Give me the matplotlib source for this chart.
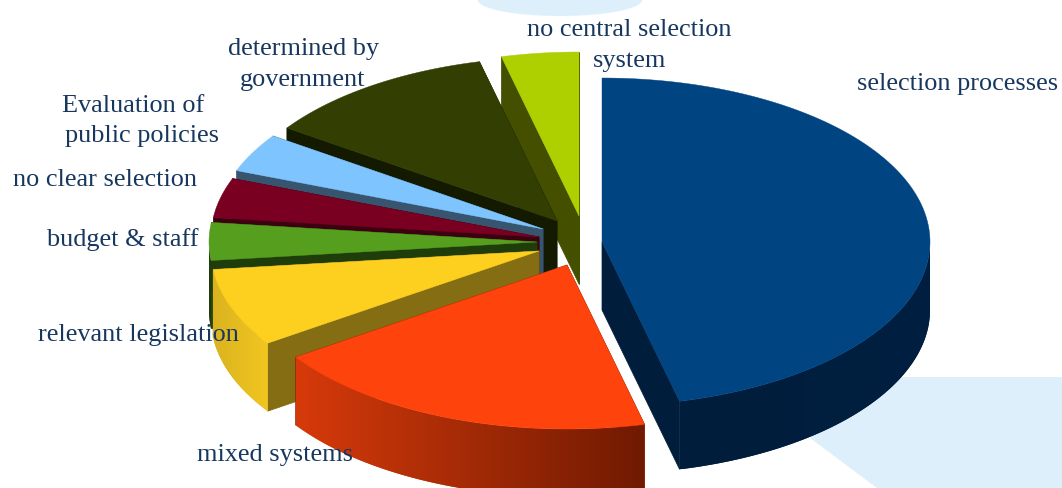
#!/usr/bin/env python
"""Exploded 3D pie of how selection is organised, drawn from flat polygons."""

import numpy as np
import matplotlib
matplotlib.use("Agg")
import matplotlib.pyplot as plt
from matplotlib.colors import to_rgb
from matplotlib.patches import Polygon

W, H = 1062, 488

# Shares in percent, clockwise from twelve o'clock
categories = ["selection processes", "mixed systems", "relevant legislation",
              "budget & staff", "no clear selection", "Evaluation of public policies",
              "determined by government", "no central selection system"]
shares = [46.2, 19.3, 7.7, 3.7, 3.9, 3.8, 11.6, 3.8]

# Layout of the pie, in pixels
RX, RY, DEPTH = 328, 164, 68
apex_x = [602, 567, 539, 537, 539, 543, 557, 579]
apex_y = [242, 265, 251, 242, 237, 229, 221, 216]

top_colors = ["#004481", "#ff430c", "#fdd01f", "#569e1e", "#7a0021", "#7ec5ff", "#323e02", "#aecf00"]
cut_colors = ["#001d3b", "#7a1a02", "#846d12", "#1f3d0a", "#3d0010", "#38556f", "#141a00", "#445000"]
rim_left = ["#001d3b", "#d63a0a", "#dab320", "#1f3d0a", "#3d0010", "#38556f", "#141a00", "#445000"]
rim_right = ["#001f40", "#701a02", "#f2c61f", "#1f3d0a", "#3d0010", "#38556f", "#141a00", "#445000"]

# Painted back to front so nearer slices hide the cut faces behind them
draw_order = [7, 6, 5, 4, 3, 2, 1, 0]

# text, centre x, centre y
label_lines = [
    ("selection processes", 958, 84),
    ("no central selection", 629, 30),
    ("system", 630, 61),
    ("determined by", 303, 49),
    ("government", 303, 80),
    ("Evaluation of", 133, 106),
    ("public policies", 142, 136),
    ("no clear selection", 105, 180),
    ("budget & staff", 123, 240),
    ("relevant legislation", 138, 335),
    ("mixed systems", 275, 455),
]
LABEL_COLOR = "#17375e"
BACKDROP = "#deeffc"


def rim_point(cx, cy, deg):
    """Pixel position on the top ellipse, deg clockwise from twelve o'clock."""
    t = np.radians(deg)
    return cx + RX * np.sin(t), cy - RY * np.cos(t)


def draw_slice(ax, i, start, end, z):
    cx, cy = apex_x[i], apex_y[i]
    angles = np.linspace(start, end, 160)
    xs, ys = rim_point(cx, cy, angles)

    # cut faces: straight walls going down from both radii
    for deg in (start, end):
        ex, ey = rim_point(cx, cy, deg)
        ax.add_patch(Polygon([(cx, cy), (ex, ey), (ex, ey + DEPTH), (cx, cy + DEPTH)],
                             closed=True, fc=cut_colors[i], ec=cut_colors[i], lw=0.5, zorder=z))

    # outer wall, shaded left to right across the slice
    lo, hi = max(start, 90), min(end, 270)
    if lo < hi:
        vx, vy = rim_point(cx, cy, np.linspace(lo, hi, 160))
        wall = Polygon(np.column_stack([np.r_[vx, vx[::-1]], np.r_[vy, vy[::-1] + DEPTH]]),
                       closed=True, fc=rim_left[i], ec="none", transform=ax.transData, zorder=z + 0.1)
        ax.add_patch(wall)
        ramp = np.linspace(0, 1, 256)[None, :, None]
        c0, c1 = np.array(to_rgb(rim_left[i])), np.array(to_rgb(rim_right[i]))
        img = ax.imshow(c0 + (c1 - c0) * ramp, aspect="auto", interpolation="bilinear",
                        extent=(vx.min(), vx.max(), vy.max() + DEPTH, vy.min()), zorder=z + 0.2)
        img.set_clip_path(wall)

    # top face
    outline = np.column_stack([np.r_[cx, xs], np.r_[cy, ys]])
    ax.add_patch(Polygon(outline, closed=True, fc=top_colors[i], ec=top_colors[i], lw=0.3, zorder=z + 0.3))


def main():
    plt.rcParams["font.family"] = ["Liberation Serif", "DejaVu Serif"]
    fig = plt.figure(figsize=(W / 100, H / 100), dpi=100, facecolor="white")
    ax = fig.add_axes([0, 0, 1, 1])
    ax.axis("off")

    # pale backdrop shapes behind the pie
    ax.add_patch(Polygon([(880, 377), (1062, 377), (1062, 488), (877, 488), (810, 438)],
                         closed=True, fc=BACKDROP, ec="none", zorder=0))
    t = np.linspace(0, np.pi, 80)
    ax.add_patch(Polygon(np.column_stack([560 + 82 * np.cos(t), 16 * np.sin(t)]),
                         closed=True, fc=BACKDROP, ec="none", zorder=0))

    edges = np.r_[0, np.cumsum(shares)] / sum(shares) * 360
    for z, i in enumerate(draw_order, start=1):
        draw_slice(ax, i, edges[i], edges[i + 1], z)

    for text, x, y in label_lines:
        ax.text(x, y, text, ha="center", va="center", fontsize=18.9, color=LABEL_COLOR, zorder=20)

    # imshow resets the limits, so they are fixed last
    ax.set_xlim(0, W)
    ax.set_ylim(H, 0)

    fig.savefig("out.png", dpi=100)


if __name__ == "__main__":
    main()
